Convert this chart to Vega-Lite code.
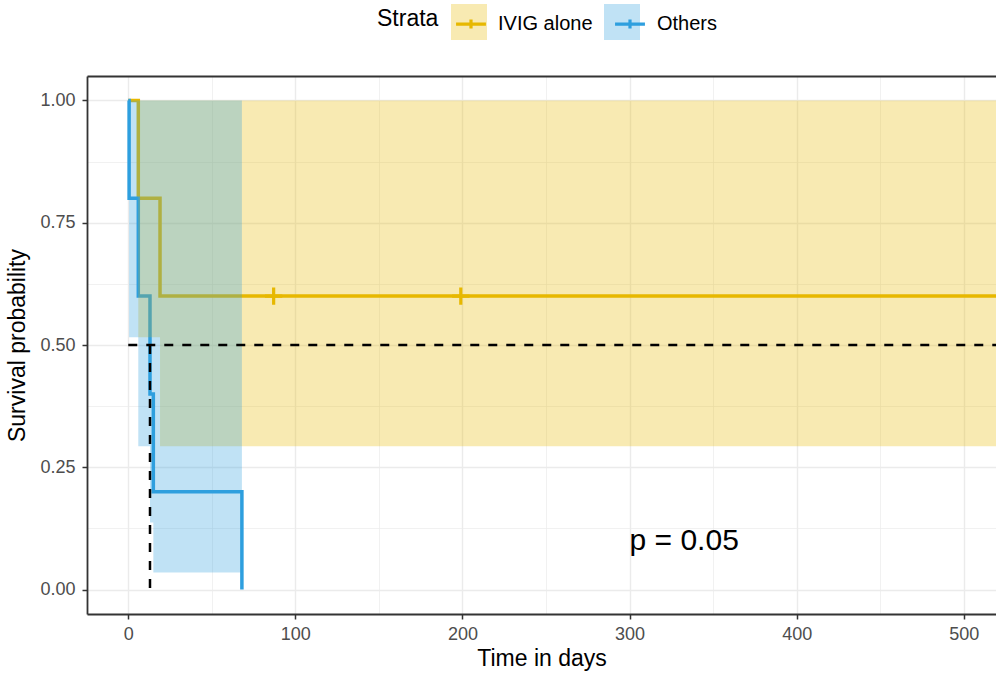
{
  "$schema": "https://vega.github.io/schema/vega-lite/v6.json",
  "width": 909,
  "height": 538,
  "autosize": {"type": "none"},
  "padding": {"left": 87, "top": 76, "right": 0, "bottom": 61},
  "background": "white",
  "config": {
    "view": {"stroke": null},
    "font": "Liberation Sans",
    "axis": {
      "domainColor": "#333333",
      "domainWidth": 1.8,
      "tickColor": "#333333",
      "tickWidth": 1.5,
      "tickSize": 5,
      "labelColor": "#4D4D4D",
      "labelFontSize": 18,
      "titleColor": "#000000",
      "titleFontSize": 23,
      "titleFontWeight": "normal",
      "gridColor": "#EBEBEB"
    }
  },
  "datasets": {
    "steps": [
      {"strata": "IVIG alone", "time": 0, "surv": 1},
      {"strata": "IVIG alone", "time": 6, "surv": 0.8},
      {"strata": "IVIG alone", "time": 19, "surv": 0.6},
      {"strata": "IVIG alone", "time": 520, "surv": 0.6},
      {"strata": "Others", "time": 0, "surv": 1},
      {"strata": "Others", "time": 0.5, "surv": 0.8},
      {"strata": "Others", "time": 6, "surv": 0.6},
      {"strata": "Others", "time": 13, "surv": 0.4},
      {"strata": "Others", "time": 15, "surv": 0.2},
      {"strata": "Others", "time": 68, "surv": 0}
    ],
    "bands": [
      {"strata": "IVIG alone", "time": 0, "lower": 1, "upper": 1},
      {"strata": "IVIG alone", "time": 6, "lower": 0.516, "upper": 1},
      {"strata": "IVIG alone", "time": 19, "lower": 0.293, "upper": 1},
      {"strata": "IVIG alone", "time": 520, "lower": 0.293, "upper": 1},
      {"strata": "Others", "time": 0, "lower": 1, "upper": 1},
      {"strata": "Others", "time": 0.5, "lower": 0.516, "upper": 1},
      {"strata": "Others", "time": 6, "lower": 0.293, "upper": 1},
      {"strata": "Others", "time": 13, "lower": 0.137, "upper": 1},
      {"strata": "Others", "time": 15, "lower": 0.035, "upper": 1},
      {"strata": "Others", "time": 68, "lower": 0.035, "upper": 1}
    ],
    "median": [
      {"seg": "h", "x": 0, "x2": 520, "y": 0.5, "y2": 0.5},
      {"seg": "v", "x": 13, "x2": 13, "y": 0.5, "y2": 0}
    ],
    "censor": [
      {"strata": "IVIG alone", "time": 87, "surv": 0.6},
      {"strata": "IVIG alone", "time": 199, "surv": 0.6}
    ],
    "pval": [
      {"time": 300, "surv": 0.1, "label": "p = 0.05"}
    ]
  },
  "resolve": {"axis": {"x": "independent", "y": "independent"}},
  "layer": [
    {
      "data": {"name": "median"},
      "mark": {"type": "rule", "opacity": 0},
      "encoding": {
        "x": {
          "field": "x", "type": "quantitative",
          "scale": {"domain": [-24.7, 519.3], "nice": false, "zero": false},
          "axis": {"orient": "bottom", "values": [50, 150, 250, 350, 450], "grid": true, "gridWidth": 0.7, "labels": false, "ticks": false, "domain": false, "title": null}
        },
        "y": {
          "field": "y", "type": "quantitative",
          "scale": {"domain": [-0.05, 1.05], "nice": false, "zero": false},
          "axis": {"orient": "left", "values": [0.125, 0.375, 0.625, 0.875], "grid": true, "gridWidth": 0.7, "labels": false, "ticks": false, "domain": false, "title": null}
        }
      }
    },
    {
      "data": {"name": "steps"},
      "mark": {"type": "line", "interpolate": "step-after", "strokeWidth": 3.5, "strokeCap": "butt", "clip": true},
      "encoding": {
        "x": {
          "field": "time", "type": "quantitative",
          "axis": {
            "orient": "bottom",
            "title": "Time in days",
            "values": [0, 100, 200, 300, 400, 500],
            "grid": true, "gridWidth": 1.4,
            "labelPadding": 6,
            "titlePadding": 4,
            "labelFlush": false
          }
        },
        "y": {
          "field": "surv", "type": "quantitative",
          "axis": {
            "orient": "left",
            "title": "Survival probability",
            "values": [0, 0.25, 0.5, 0.75, 1],
            "format": ".2f",
            "grid": true, "gridWidth": 1.4,
            "labelPadding": 7,
            "titlePadding": 10,
            "labelFlush": false
          }
        },
        "stroke": {
          "field": "strata", "type": "nominal",
          "scale": {"range": ["#E7B800", "#2E9FDF"]},
          "legend": {
            "orient": "none", "legendX": 290, "legendY": -72, "direction": "horizontal",
            "title": "Strata", "titleOrient": "left", "titleFontSize": 23, "titleFontWeight": "normal",
            "titleColor": "#000000", "titlePadding": 12, "titleBaseline": "middle", "titleAnchor": "middle",
            "labelFontSize": 20, "labelColor": "#000000", "labelOffset": 7, "columnPadding": 15,
            "symbolType": "M-0.83,0H0.83M0,-0.25V0.25", "symbolSize": 1296, "symbolStrokeWidth": 3.2,
            "padding": 0
          }
        },
        "detail": {"field": "strata"}
      }
    },
    {
      "data": {"name": "bands"},
      "mark": {"type": "area", "interpolate": "step-after", "fillOpacity": 0.3, "clip": true},
      "encoding": {
        "x": {"field": "time", "type": "quantitative", "axis": null},
        "y": {"field": "lower", "type": "quantitative", "axis": null},
        "y2": {"field": "upper"},
        "fill": {
          "field": "strata", "type": "nominal",
          "scale": {"domain": ["IVIG alone", "Others"], "range": ["#E7B800", "#2E9FDF"]},
          "legend": {
            "orient": "none", "legendX": 290, "legendY": -72, "direction": "horizontal",
            "title": "Strata", "titleOrient": "left", "titleFontSize": 23, "titleFontWeight": "normal",
            "titleColor": "#000000", "titlePadding": 12, "titleBaseline": "middle", "titleAnchor": "middle",
            "titleOpacity": 0, "labelOpacity": 0,
            "labelFontSize": 20, "labelColor": "#000000", "labelOffset": 7, "columnPadding": 15,
            "symbolType": "square", "symbolSize": 1296, "symbolStrokeWidth": 0, "symbolOpacity": 0.3,
            "padding": 0
          }
        }
      }
    },
    {
      "data": {"name": "median"},
      "mark": {"type": "rule", "color": "#000000", "strokeWidth": 2.5, "strokeDash": [9, 9], "clip": true},
      "encoding": {
        "x": {"field": "x", "type": "quantitative", "axis": {"orient": "top", "title": null, "labels": false, "ticks": false, "grid": false, "domainColor": "#333333", "domainWidth": 1.8}},
        "x2": {"field": "x2"},
        "y": {"field": "y", "type": "quantitative", "axis": null},
        "y2": {"field": "y2"}
      }
    },
    {
      "data": {"name": "censor"},
      "mark": {"type": "point", "shape": "M-1,0H1M0,-1V1", "size": 300, "filled": false, "strokeWidth": 3.2, "color": "#E7B800", "opacity": 1},
      "encoding": {
        "x": {"field": "time", "type": "quantitative", "axis": null},
        "y": {"field": "surv", "type": "quantitative", "axis": null}
      }
    },
    {
      "data": {"name": "pval"},
      "mark": {"type": "text", "align": "left", "baseline": "middle", "fontSize": 30, "color": "#000000"},
      "encoding": {
        "x": {"field": "time", "type": "quantitative", "axis": null},
        "y": {"field": "surv", "type": "quantitative", "axis": null},
        "text": {"field": "label"}
      }
    }
  ]
}
